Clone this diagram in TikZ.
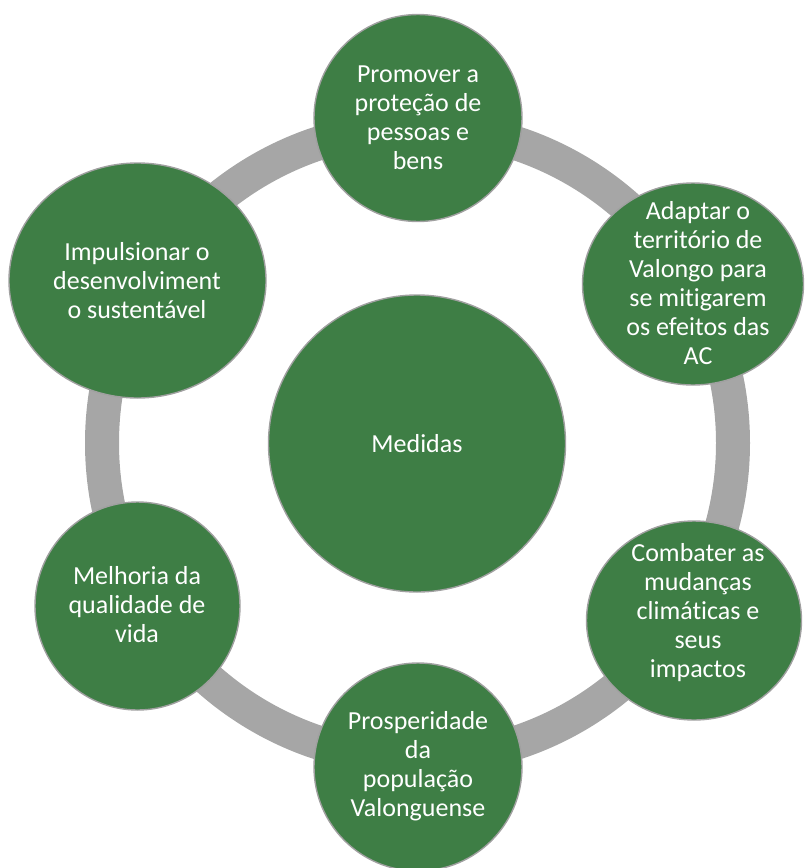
\documentclass[tikz,border=0pt]{standalone}
\usepackage{fontspec}
\setmainfont{Carlito}[Ligatures={NoCommon,NoContextual}]
\usetikzlibrary{shapes.geometric}
\definecolor{bubblegreen}{RGB}{62,126,69}
\definecolor{ringgray}{RGB}{166,166,166}
\definecolor{edgegray}{RGB}{160,160,160}
\tikzset{
  bubble/.style={ellipse, fill=bubblegreen, draw=edgegray, line width=1.4pt, inner sep=0pt},
  txt/.style={text=white, align=center, inner sep=0pt, font=\fontsize{26}{29}\selectfont},
  ring/.style={draw=ringgray, line width=34pt}
}
\begin{document}
\begin{tikzpicture}[x=1pt,y=-1pt]
\useasboundingbox (0,0) rectangle (804,868);
\coordinate (o) at (417.5,443);
\draw[ring] (o) circle (315.5pt);
% centre
\node[bubble, minimum width=297pt, minimum height=297pt] (c0) at (417,443.5) {};
\node[txt] (t0) at (c0.center) {Medidas};
% top
\node[bubble, minimum width=208pt, minimum height=207pt] (c1) at (418,118) {};
\node[txt] (t1) at (418,118) {Promover a\\proteção de\\pessoas e\\bens};
% upper right
\node[bubble, minimum width=221pt, minimum height=202pt] (c2) at (693,284) {};
\node[txt] (t2) at (698,283) {Adaptar o\\território de\\Valongo para\\se mitigarem\\os efeitos das\\AC};
% lower right
\node[bubble, minimum width=215pt, minimum height=199pt] (c3) at (694,620.5) {};
\node[txt] (t3) at (698,613) {Combater as\\mudanças\\climáticas e\\seus\\impactos};
% bottom
\node[bubble, minimum width=208pt, minimum height=208pt] (c4) at (418,767) {};
\node[txt] (t4) at (418,766) {Prosperidade\\da\\população\\Valonguense};
% lower left
\node[bubble, minimum width=205pt, minimum height=208pt] (c5) at (137.5,606) {};
\node[txt] (t5) at (137,605) {Melhoria da\\qualidade de\\vida};
% upper left
\node[bubble, minimum width=257pt, minimum height=235pt] (c6) at (137.5,280.5) {};
\node[txt] (t6) at (137,281) {Impulsionar o\\desenvolviment\\o sustentável};
\end{tikzpicture}
\end{document}
